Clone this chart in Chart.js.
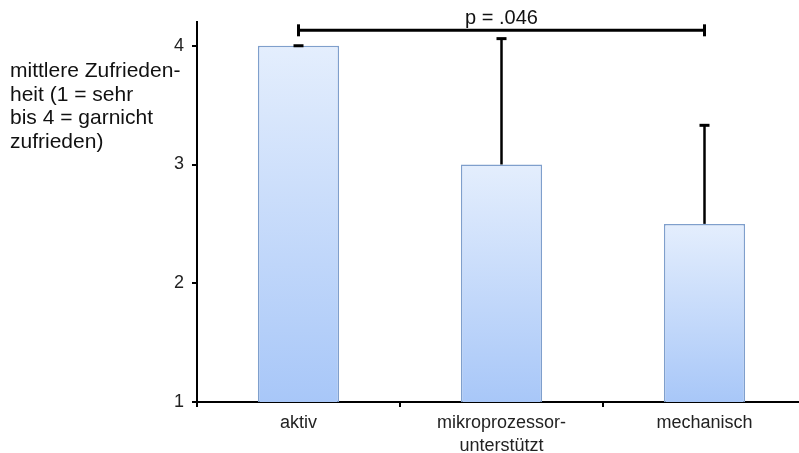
<!DOCTYPE html>
<html>
<head>
<meta charset="utf-8">
<script src="https://cdn.jsdelivr.net/npm/chart.js@4.4.1/dist/chart.umd.min.js"></script>
<style>
  html, body { margin: 0; padding: 0; background: #fff; overflow: hidden; }
  #wrap { width: 799px; height: 453px; overflow: hidden; position: relative; }
  #box { width: 810px; height: 453px; position: absolute; left: 0; top: 0; }
</style>
</head>
<body>
<div id="wrap"><div id="box"><canvas id="c"></canvas></div></div>
<script>
const categories = ['aktiv', ['mikroprozessor-', 'unterstützt'], 'mechanisch'];
const means = [4, 3, 2.5];
const sd = [0, 1.06, 0.83];
const yTicks = [1, 2, 3, 4];
const axisLabelLines = ['mittlere Zufrieden-', 'heit (1 = sehr', 'bis 4 = garnicht', 'zufrieden)'];
const sigText = 'p = .046';
const sigPair = [0, 2];
const sigLevel = 4.13;

const FONT = '"Liberation Sans", Arial, sans-serif';

function barGradient(ctx) {
  const chart = ctx.chart;
  if (!chart.chartArea || ctx.raw === undefined) return '#c8dcfa';
  const y = chart.scales.y;
  const top = y.getPixelForValue(ctx.raw);
  const bottom = y.getPixelForValue(y.min);
  const g = chart.ctx.createLinearGradient(0, top, 0, bottom);
  g.addColorStop(0, '#e4eefd');
  g.addColorStop(1, '#a8c7f8');
  return g;
}

const overlay = {
  id: 'overlay',
  afterDatasetsDraw(chart) {
    const c = chart.ctx;
    const xs = chart.scales.x, ys = chart.scales.y;
    c.save();
    c.strokeStyle = '#000';
    // error bars
    means.forEach((m, i) => {
      const x = xs.getPixelForValue(i);
      const y1 = ys.getPixelForValue(m);
      const y2 = ys.getPixelForValue(m + sd[i]);
      c.lineWidth = 2.5;
      c.beginPath(); c.moveTo(x, y1); c.lineTo(x, y2); c.stroke();
      c.lineWidth = 3;
      c.beginPath(); c.moveTo(x - 5, y2); c.lineTo(x + 5, y2); c.stroke();
    });
    // significance bracket
    const xa = xs.getPixelForValue(sigPair[0]);
    const xb = xs.getPixelForValue(sigPair[1]);
    const yb = ys.getPixelForValue(sigLevel);
    c.lineWidth = 3;
    c.beginPath(); c.moveTo(xa, yb); c.lineTo(xb, yb); c.stroke();
    c.beginPath(); c.moveTo(xa, yb - 6); c.lineTo(xa, yb + 6); c.stroke();
    c.beginPath(); c.moveTo(xb, yb - 6); c.lineTo(xb, yb + 6); c.stroke();
    c.fillStyle = '#111';
    c.font = '20px ' + FONT;
    c.textAlign = 'center';
    c.textBaseline = 'alphabetic';
    c.fillText(sigText, (xa + xb) / 2, yb - 6);
    // y-axis label
    c.textAlign = 'left';
    c.font = '21px ' + FONT;
    axisLabelLines.forEach((t, i) => c.fillText(t, 10, 77 + i * 23.5));
    c.restore();
  }
};

new Chart(document.getElementById('c'), {
  type: 'bar',
  data: {
    labels: categories,
    datasets: [{
      data: means,
      backgroundColor: barGradient,
      borderColor: '#7f9fcc',
      borderWidth: 1.5,
      borderSkipped: false,
      categoryPercentage: 1,
      barPercentage: 0.4
    }]
  },
  options: {
    responsive: true,
    maintainAspectRatio: false,
    animation: false,
    layout: { padding: { top: 22, right: 4, left: 0, bottom: 0 } },
    plugins: { legend: { display: false }, tooltip: { enabled: false } },
    scales: {
      x: {
        grid: { display: true, drawOnChartArea: false, drawTicks: true, tickLength: 5, color: '#000', lineWidth: 2, offset: true },
        border: { display: true, color: '#000', width: 2 },
        ticks: { color: '#222', font: { family: FONT, size: 18, lineHeight: 1.25 }, padding: 5, maxRotation: 0, autoSkip: false },
        afterFit(s) { s.height = 51; }
      },
      y: {
        min: 1, max: 4.2,
        afterBuildTicks(s) { s.ticks = yTicks.map(v => ({ value: v })); },
        grid: { display: true, drawOnChartArea: false, drawTicks: true, tickLength: 5, color: '#000', lineWidth: 2 },
        border: { display: true, color: '#000', width: 2 },
        ticks: { color: '#222', font: { family: FONT, size: 18 }, padding: 8 },
        afterFit(s) { s.width = 197; }
      }
    }
  },
  plugins: [overlay]
});
</script>
</body>
</html>
